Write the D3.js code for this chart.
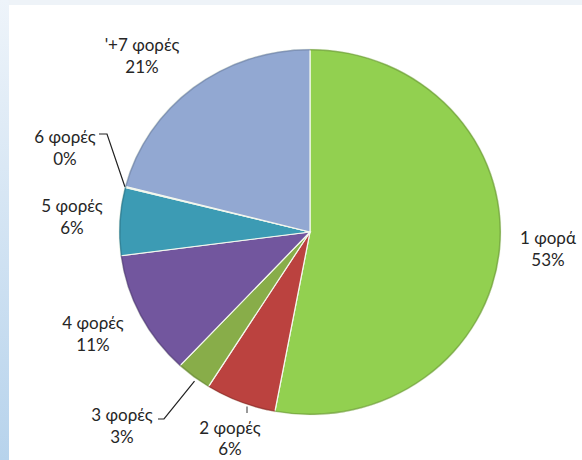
<!DOCTYPE html>
<html><head><meta charset="utf-8">
<script src="https://cdn.jsdelivr.net/npm/d3@7"></script>
<style>
html,body{margin:0;padding:0;background:#fff;}
svg{display:block;}
</style></head>
<body>
<svg id="chart" width="582" height="460"></svg>
<script>
const categories = ["1 φορά", "2 φορές", "3 φορές", "4 φορές", "5 φορές", "6 φορές", "'+7 φορές"];
const values = [53, 6, 3, 11, 6, 0.1, 21];
const percentLabels = ["53%", "6%", "3%", "11%", "6%", "0%", "21%"];
const colors = ["#92d050", "#bb423f", "#88ad49", "#72569e", "#3c9bb4", "#4f9ec0", "#92a8d2"];
const edgeColors = ["#6f9e3a", "#8f2f2c", "#6a8a37", "#56407a", "#2e788c", "#2e788c", "#7386a8"];

const svg = d3.select("#chart");
const W = 582, H = 460;

const defs = svg.append("defs");
const lg = defs.append("linearGradient").attr("id","side").attr("x1",0).attr("y1",0).attr("x2",0).attr("y2",1);
lg.append("stop").attr("offset","0%").attr("stop-color","#eef4fa");
lg.append("stop").attr("offset","100%").attr("stop-color","#b7d3ec");
svg.append("rect").attr("x",0).attr("y",0).attr("width",W).attr("height",5).attr("fill","#eef3f8");
svg.append("rect").attr("x",0).attr("y",0).attr("width",9).attr("height",H).attr("fill","url(#side)");

const cx = 310, cy = 232, rx = 191, ry = 183;
const pie = d3.pie().sort(null).value(d => d);
const arcs = pie(values);
const arc = d3.arc().innerRadius(0).outerRadius(rx);

const g = svg.append("g").attr("transform", `translate(${cx},${cy}) scale(1,${ry/rx})`);
g.selectAll("path.slice").data(arcs).enter().append("path")
  .attr("class","slice")
  .attr("d", arc)
  .attr("fill", (d,i) => colors[i])
  .attr("stroke", "#f4f8ee")
  .attr("stroke-width", 1.2);

const rimArc = d3.arc().innerRadius(rx-1.5).outerRadius(rx);
g.selectAll("path.rim").data(arcs).enter().append("path")
  .attr("class","rim")
  .attr("d", rimArc)
  .attr("fill", (d,i) => edgeColors[i])
  .attr("opacity", 0.7);

const labelPos = [
  {x: 548, y: 244, dy: 22},
  {x: 230, y: 434, dy: 21},
  {x: 122, y: 421, dy: 22},
  {x: 93,  y: 329, dy: 22},
  {x: 72,  y: 212, dy: 22},
  {x: 65,  y: 143, dy: 22},
  {x: 142, y: 51,  dy: 22}
];
const font = "Lato, 'Open Sans', sans-serif";
const lab = svg.append("g").attr("font-family", font).attr("font-size", 17).attr("fill", "#262626").attr("text-anchor","middle");
categories.forEach((c,i) => {
  const t = lab.append("text").attr("x", labelPos[i].x).attr("y", labelPos[i].y);
  t.append("tspan").attr("x", labelPos[i].x).text(c);
  t.append("tspan").attr("x", labelPos[i].x).attr("dy", labelPos[i].dy).text(percentLabels[i]);
});

function edgePoint(i, frac) {
  const a = arcs[i].startAngle + (arcs[i].endAngle - arcs[i].startAngle) * frac;
  return [cx + rx * Math.sin(a), cy - ry * Math.cos(a)];
}
const line = d3.line();
const p6 = edgePoint(5, 0.5);
const p3 = edgePoint(2, 0.5);
const p2 = edgePoint(1, 0.5);
svg.append("path").attr("d", line([[99,134],[107,134],p6])).attr("fill","none").attr("stroke","#222").attr("stroke-width",1.2);
svg.append("path").attr("d", line([[158,419],[164,419],[p3[0]+1, p3[1]+4]])).attr("fill","none").attr("stroke","#222").attr("stroke-width",1.2);
svg.append("path").attr("d", line([[247,413],[247,p2[1]+4]])).attr("fill","none").attr("stroke","#555").attr("stroke-width",1.2);
</script>
</body></html>
